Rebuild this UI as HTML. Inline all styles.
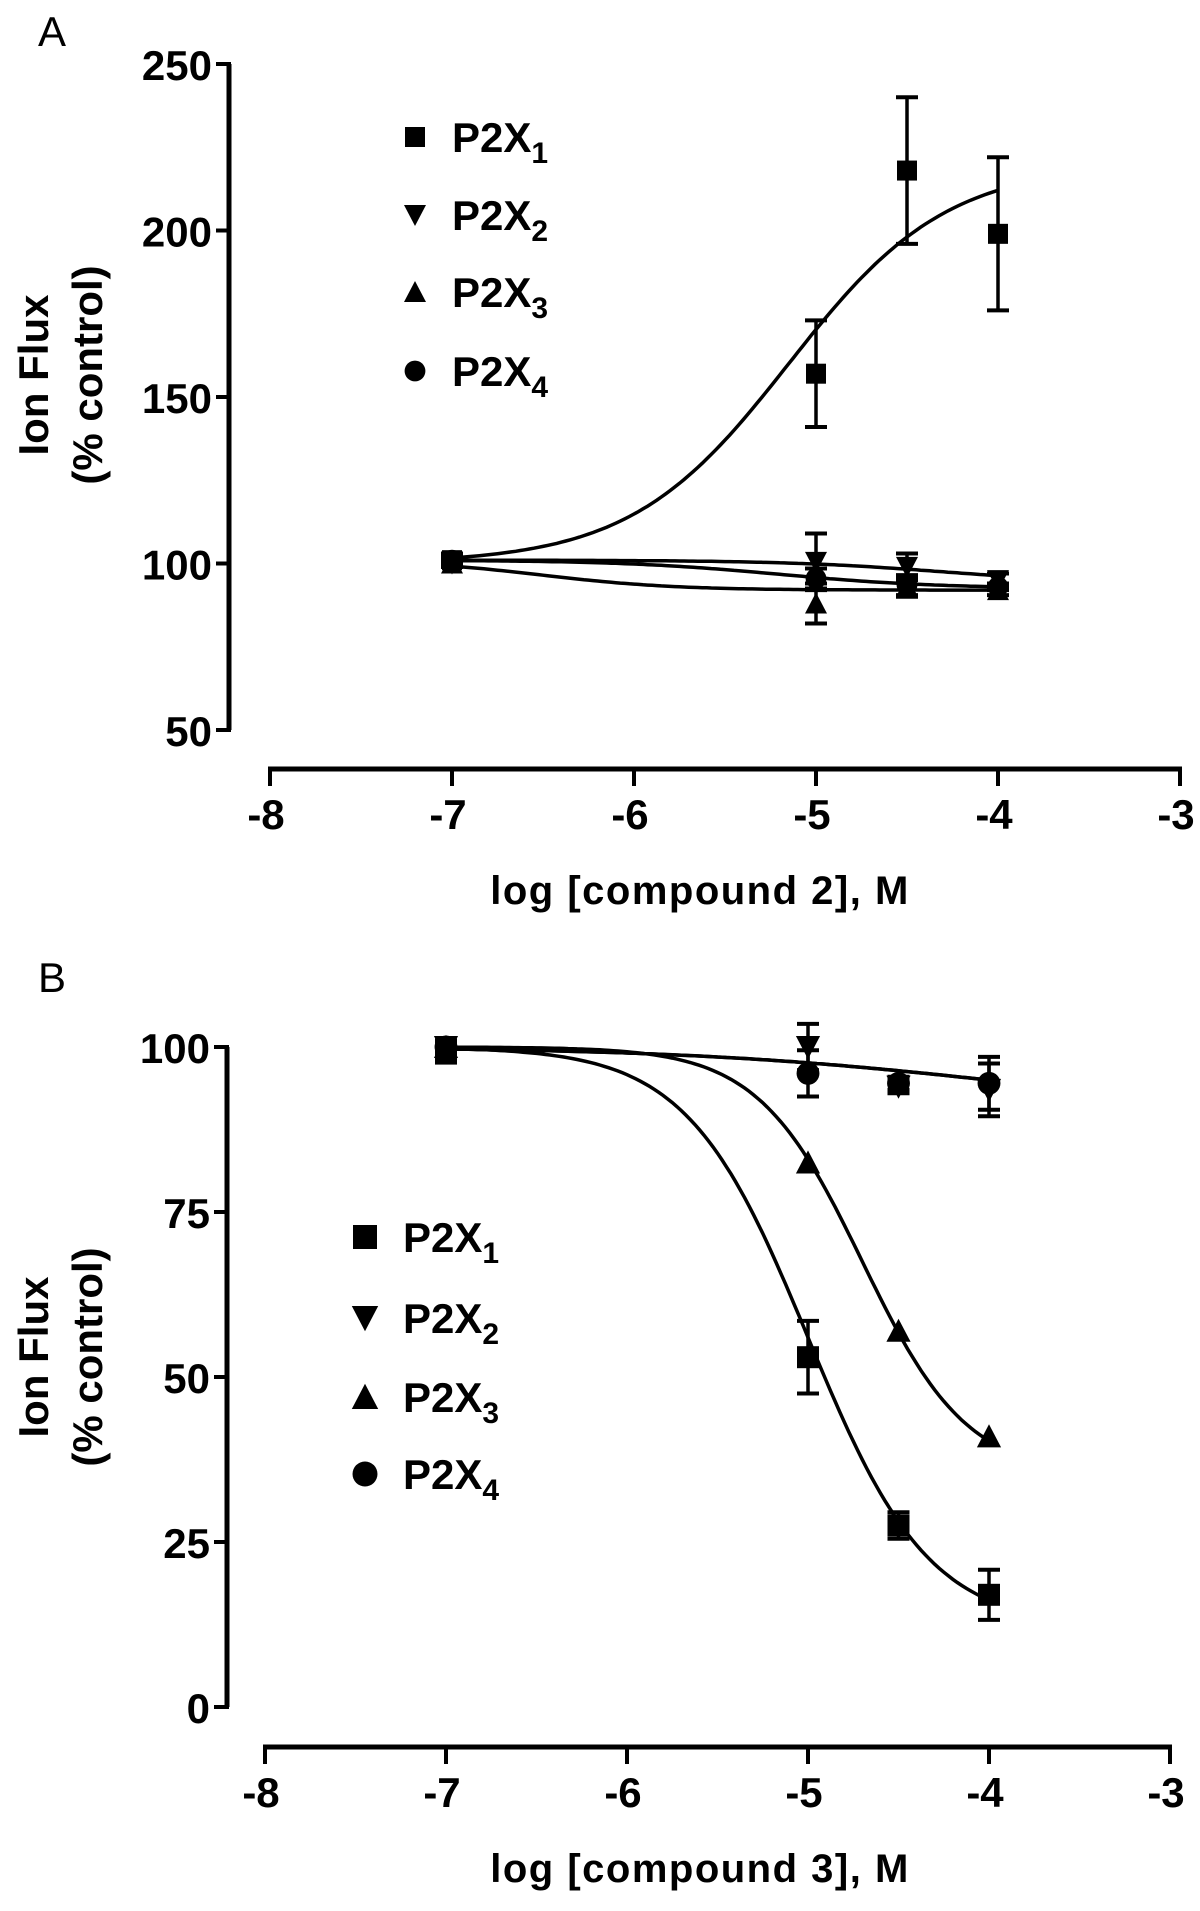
<!DOCTYPE html>
<html><head><meta charset="utf-8"><style>
html,body{margin:0;padding:0;background:#fff;}
svg{display:block;}
text{font-family:"Liberation Sans",Arial,sans-serif;fill:#000;}
.b{font-weight:bold;}
</style></head><body>
<svg id="fig" width="1200" height="1911" viewBox="0 0 1200 1911" xmlns="http://www.w3.org/2000/svg"></svg>
<script>
// ---- Panel A data ----
const xTicks = [-8,-7,-6,-5,-4,-3];
const aYTicks = [50,100,150,200,250];
const aX = [-7,-5,-4.5,-4];
const aP2X1 = [101,157,218,199];
const aP2X1Err = [2,16,22,23];
const aP2X2 = [100,100.5,99,95];
const aP2X2Err = [1,8.5,4,2];
const aP2X3 = [100,88,93,92];
const aP2X3Err = [1,6,3,1.5];
const aP2X4 = [101,95.5,93.5,93];
const aP2X4Err = [1,3,3,1];
// sigmoid fit params: start, end, midpoint(log), hill
const aFitP2X1 = [100,220,-5.15,1];
const aFitP2X2 = [101,94,-4.3,1];
const aFitP2X3 = [101,92,-6.5,1.2];
const aFitP2X4 = [101,92.5,-5.2,1];
// ---- Panel B data ----
const bYTicks = [0,25,50,75,100];
const bX = [-7,-5,-4.5,-4];
const bP2X1 = [99,53,27.5,17];
const bP2X1Err = [1,5.5,2,3.8];
const bP2X2 = [100,100,94,93.5];
const bP2X2Err = [1,3.5,1,4];
const bP2X3 = [100,82.5,57,41];
const bP2X3Err = [0,0,0,0];
const bP2X4 = [100,96,94.5,94.5];
const bP2X4Err = [0.5,3.5,1,4];
const bFitP2X1 = [100,12,-5.0,1.3];
const bFitP2X2 = [100,90,-4.0,0.5];
const bFitP2X3 = [100,35,-4.7,1.5];
const bFitP2X4 = [100,90,-4.0,0.5];

const NS="http://www.w3.org/2000/svg";
const svg=document.getElementById('fig');
function el(tag,attrs,parent){const e=document.createElementNS(NS,tag);for(const k in attrs)e.setAttribute(k,attrs[k]);(parent||svg).appendChild(e);return e;}
function sig(p,x){return p[1]+(p[0]-p[1])/(1+Math.pow(10,(x-p[2])*p[3]));}

function marker(g,type,cx,cy,s){
  let m;
  if(type==='square') m=el('rect',{x:cx-s/2,y:cy-s/2,width:s,height:s},g);
  else if(type==='down') m=el('polygon',{points:`${cx-s*0.55},${cy-s*0.5} ${cx+s*0.55},${cy-s*0.5} ${cx},${cy+s*0.55}`},g);
  else if(type==='up') m=el('polygon',{points:`${cx-s*0.55},${cy+s*0.5} ${cx+s*0.55},${cy+s*0.5} ${cx},${cy-s*0.55}`},g);
  else m=el('circle',{cx:cx,cy:cy,r:s*0.52},g);
  m.setAttribute('fill','#000');
  return m;
}

function panel(cfg){
  const g=el('g',{});
  
  
  const sx=v=>cfg.x0+(v-(-8))*cfg.xu;
  const sy=v=>cfg.yBase-(v-cfg.yMin)*cfg.yu;
  const L=el('text',{x:cfg.letterX,y:cfg.letterY,'font-size':42},g);L.textContent=cfg.letter;
  
  
  const ya=el('g',{},g);
  
  
  const yTop=sy(cfg.yTicks[cfg.yTicks.length-1]), yBot=sy(cfg.yTicks[0]);
  el('line',{x1:cfg.yAxisX,y1:yTop,x2:cfg.yAxisX,y2:yBot,stroke:'#000','stroke-width':5},ya);
  cfg.yTicks.forEach(t=>{
    const y=sy(t);
    el('line',{x1:cfg.yAxisX-13,y1:y,x2:cfg.yAxisX+2,y2:y,stroke:'#000','stroke-width':4},ya);
    const tx=el('text',{x:cfg.yAxisX-17,y:y+16,'font-size':42,'text-anchor':'end',class:'b'},ya);
    tx.textContent=t;
    
    
  });
  const xa=el('g',{},g);
  
  
  el('line',{x1:sx(-8)-2,y1:cfg.xAxisY,x2:sx(-3)+2,y2:cfg.xAxisY,stroke:'#000','stroke-width':5},xa);
  xTicks.forEach(t=>{
    const x=sx(t);
    el('line',{x1:x,y1:cfg.xAxisY,x2:x,y2:cfg.xAxisY+17,stroke:'#000','stroke-width':4},xa);
    const tx=el('text',{x:x-4,y:cfg.xAxisY+60,'font-size':42,'text-anchor':'middle',class:'b'},xa);
    tx.textContent=t;
    
    
  });
  const xt=el('text',{x:700,y:cfg.xAxisY+135,'font-size':40,'text-anchor':'middle',class:'b','letter-spacing':'1.5'},g);
  xt.textContent=cfg.xTitle;
  
  
  const yt=el('text',{transform:`translate(48,${cfg.yTitleY}) rotate(-90)`,'font-size':42,'text-anchor':'middle',class:'b'},g);
  yt.textContent='Ion Flux';
  
  
  const yt2=el('text',{transform:`translate(102,${cfg.yTitleY}) rotate(-90)`,'font-size':42,'text-anchor':'middle',class:'b'},g);
  yt2.textContent='(% control)';
  
  
  cfg.series.forEach(s=>{
    const sg=el('g',{},g);
    
    
    let d='';
    for(let i=0;i<=120;i++){const xv=-7+3*i/120;d+=(i?'L':'M')+sx(xv).toFixed(1)+','+sy(sig(s.fit,xv)).toFixed(1);}
    const c=el('path',{d:d,fill:'none',stroke:'#000','stroke-width':3.5},sg);
    
    
    s.x.forEach((xv,i)=>{
      const x=sx(xv),y=sy(s.y[i]),e=s.err[i];
      if(e>0){
        const eg=el('g',{},sg);
        
        
        el('line',{x1:x,y1:sy(s.y[i]+e),x2:x,y2:sy(s.y[i]-e),stroke:'#000','stroke-width':3.5},eg);
        el('line',{x1:x-11,y1:sy(s.y[i]+e),x2:x+11,y2:sy(s.y[i]+e),stroke:'#000','stroke-width':4},eg);
        el('line',{x1:x-11,y1:sy(s.y[i]-e),x2:x+11,y2:sy(s.y[i]-e),stroke:'#000','stroke-width':4},eg);
      }
      const m=marker(sg,s.type,x,y,cfg.ms);
      
      
    });
  });
  const lg=el('g',{},g);
  
  
  cfg.series.forEach((s,i)=>{
    const y=cfg.legY[i];
    const eg=el('g',{},lg);
    
    
    marker(eg,s.type,cfg.legMX,y,cfg.legMS);
    const t=el('text',{x:cfg.legTX,y:y+15,'font-size':42,class:'b'},eg);
    t.textContent='P2X';
    const sub=el('tspan',{'font-size':30,dy:11},t);
    sub.textContent=s.sub;
  });
}

panel({name:'panel-a',letter:'A',letterX:38,letterY:46,x0:270,xu:182,yMin:50,yBase:730,yu:3.33,
  yTicks:aYTicks,yAxisX:229,xAxisY:769,xTitle:'log [compound 2], M',yTitleY:375,ms:20,
  legMX:415,legTX:452,legMS:20,legY:[137,215,292,371],
  series:[
    {id:'p2x1',sub:'1',type:'square',x:aX,y:aP2X1,err:aP2X1Err,fit:aFitP2X1},
    {id:'p2x2',sub:'2',type:'down',x:aX,y:aP2X2,err:aP2X2Err,fit:aFitP2X2},
    {id:'p2x3',sub:'3',type:'up',x:aX,y:aP2X3,err:aP2X3Err,fit:aFitP2X3},
    {id:'p2x4',sub:'4',type:'circle',x:aX,y:aP2X4,err:aP2X4Err,fit:aFitP2X4}
  ]});
panel({name:'panel-b',letter:'B',letterX:38,letterY:992,x0:265,xu:181,yMin:0,yBase:1707,yu:6.6,
  yTicks:bYTicks,yAxisX:227,xAxisY:1747,xTitle:'log [compound 3], M',yTitleY:1357,ms:22,
  legMX:365,legTX:403,legMS:24,legY:[1237,1318,1397,1474],
  series:[
    {id:'p2x1',sub:'1',type:'square',x:bX,y:bP2X1,err:bP2X1Err,fit:bFitP2X1},
    {id:'p2x2',sub:'2',type:'down',x:bX,y:bP2X2,err:bP2X2Err,fit:bFitP2X2},
    {id:'p2x3',sub:'3',type:'up',x:bX,y:bP2X3,err:bP2X3Err,fit:bFitP2X3},
    {id:'p2x4',sub:'4',type:'circle',x:bX,y:bP2X4,err:bP2X4Err,fit:bFitP2X4}
  ]});
</script>
</body></html>
